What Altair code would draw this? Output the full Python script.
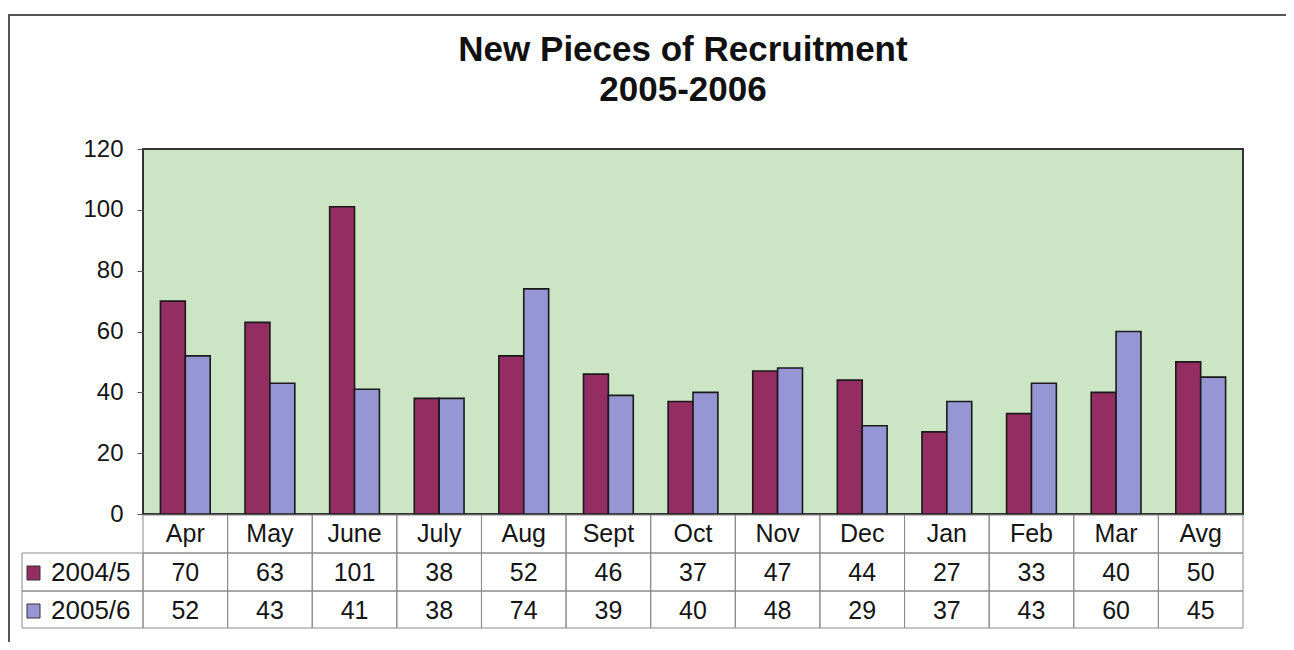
import altair as alt
import pandas as pd

months = ["Apr", "May", "June", "July", "Aug", "Sept", "Oct", "Nov", "Dec", "Jan", "Feb", "Mar", "Avg"]
series = ["2004/5", "2005/6"]
values_2004_5 = [70, 63, 101, 38, 52, 46, 37, 47, 44, 27, 33, 40, 50]
values_2005_6 = [52, 43, 41, 38, 74, 39, 40, 48, 29, 37, 43, 60, 45]
colors = ["#932D62", "#9696D4"]
title_lines = ["New Pieces of Recruitment", "2005-2006"]
y_ticks = [0, 20, 40, 60, 80, 100, 120]

W, H = 1100, 365
FONT = "Liberation Sans"
GRID = "#8a8a8a"
TXT = "#151515"

rows = []
for s, vals in zip(series, [values_2004_5, values_2005_6]):
    for m, v in zip(months, vals):
        rows.append({"month": m, "series": s, "value": v})
df = pd.DataFrame(rows)
month_df = pd.DataFrame({"month": months})

xscale = alt.Scale(domain=months, paddingInner=0, paddingOuter=0)
x_enc = alt.X("month:N", scale=xscale, axis=None)

bars = alt.Chart(df).mark_bar(stroke="#1a1a1a", strokeWidth=1.6).encode(
    x=x_enc,
    xOffset=alt.XOffset("series:N", scale=alt.Scale(domain=series, paddingInner=0, paddingOuter=0.7)),
    y=alt.Y("value:Q", scale=alt.Scale(domain=[0, 120], nice=False),
            axis=alt.Axis(values=y_ticks, title=None, grid=False, domain=False,
                          tickSize=6, tickColor="#555", tickWidth=1,
                          labelFontSize=24, labelFont=FONT, labelColor=TXT,
                          labelPadding=14)),
    color=alt.Color("series:N", scale=alt.Scale(domain=series, range=colors), legend=None),
)

layers = [bars]

# header row (month names)
layers.append(alt.Chart(month_df).mark_rect(fill="transparent", stroke=GRID, strokeWidth=1).encode(
    x=x_enc, y=alt.value(H + 1), y2=alt.value(H + 39)))
layers.append(alt.Chart(month_df).mark_text(fontSize=25, font=FONT, color=TXT, baseline="middle").encode(
    x=x_enc, y=alt.value(H + 20), text="month:N"))

row_top = [H + 39, H + 77]
row_bot = [H + 77, H + 114]
for i, s in enumerate(series):
    sub = alt.Chart(df).transform_filter(alt.datum.series == s)
    layers.append(sub.mark_rect(fill="transparent", stroke=GRID, strokeWidth=1).encode(
        x=x_enc, y=alt.value(row_top[i]), y2=alt.value(row_bot[i])))
    layers.append(sub.mark_text(fontSize=25, font=FONT, color=TXT, baseline="middle").encode(
        x=x_enc, y=alt.value((row_top[i] + row_bot[i]) / 2 + 1), text="value:Q"))
    sdf = alt.Chart(pd.DataFrame({"series": [s]}))
    layers.append(sdf.mark_rect(fill="transparent", stroke=GRID, strokeWidth=1).encode(
        x=alt.value(-121), x2=alt.value(0), y=alt.value(row_top[i]), y2=alt.value(row_bot[i])))
    layers.append(sdf.mark_rect(fill=colors[i], stroke="#333", strokeWidth=1).encode(
        x=alt.value(-116), x2=alt.value(-103),
        y=alt.value(row_top[i] + 13), y2=alt.value(row_top[i] + 27)))
    layers.append(sdf.mark_text(fontSize=26, font=FONT, color=TXT, align="left", baseline="middle").encode(
        x=alt.value(-92), y=alt.value((row_top[i] + row_bot[i]) / 2 + 1), text="series:N"))

# title
for j, line in enumerate(title_lines):
    layers.append(alt.Chart(pd.DataFrame({"t": [line]})).mark_text(
        fontSize=35, fontWeight="bold", font=FONT, color="#111", align="center", baseline="alphabetic").encode(
        x=alt.value(540), y=alt.value(-88 + 40 * j), text="t:N"))

# outer frame lines (top and left)
one = pd.DataFrame({"k": [0]})
layers.append(alt.Chart(one).mark_rule(color="#555", strokeWidth=2).encode(
    x=alt.value(-135), x2=alt.value(W + 43), y=alt.value(-134)))
layers.append(alt.Chart(one).mark_rule(color="#555", strokeWidth=2).encode(
    x=alt.value(-134), y=alt.value(-135), y2=alt.value(H + 133)))

chart = alt.layer(*layers).properties(
    width=W, height=H,
    autosize=alt.AutoSizeParams(type="none"),
    padding={"left": 135, "top": 141, "right": 43, "bottom": 128},
    background="white",
).configure_view(fill="#CCE5C5", stroke="#333", strokeWidth=2)

chart.save("out.html", embed_options={"renderer": "svg", "actions": False})
